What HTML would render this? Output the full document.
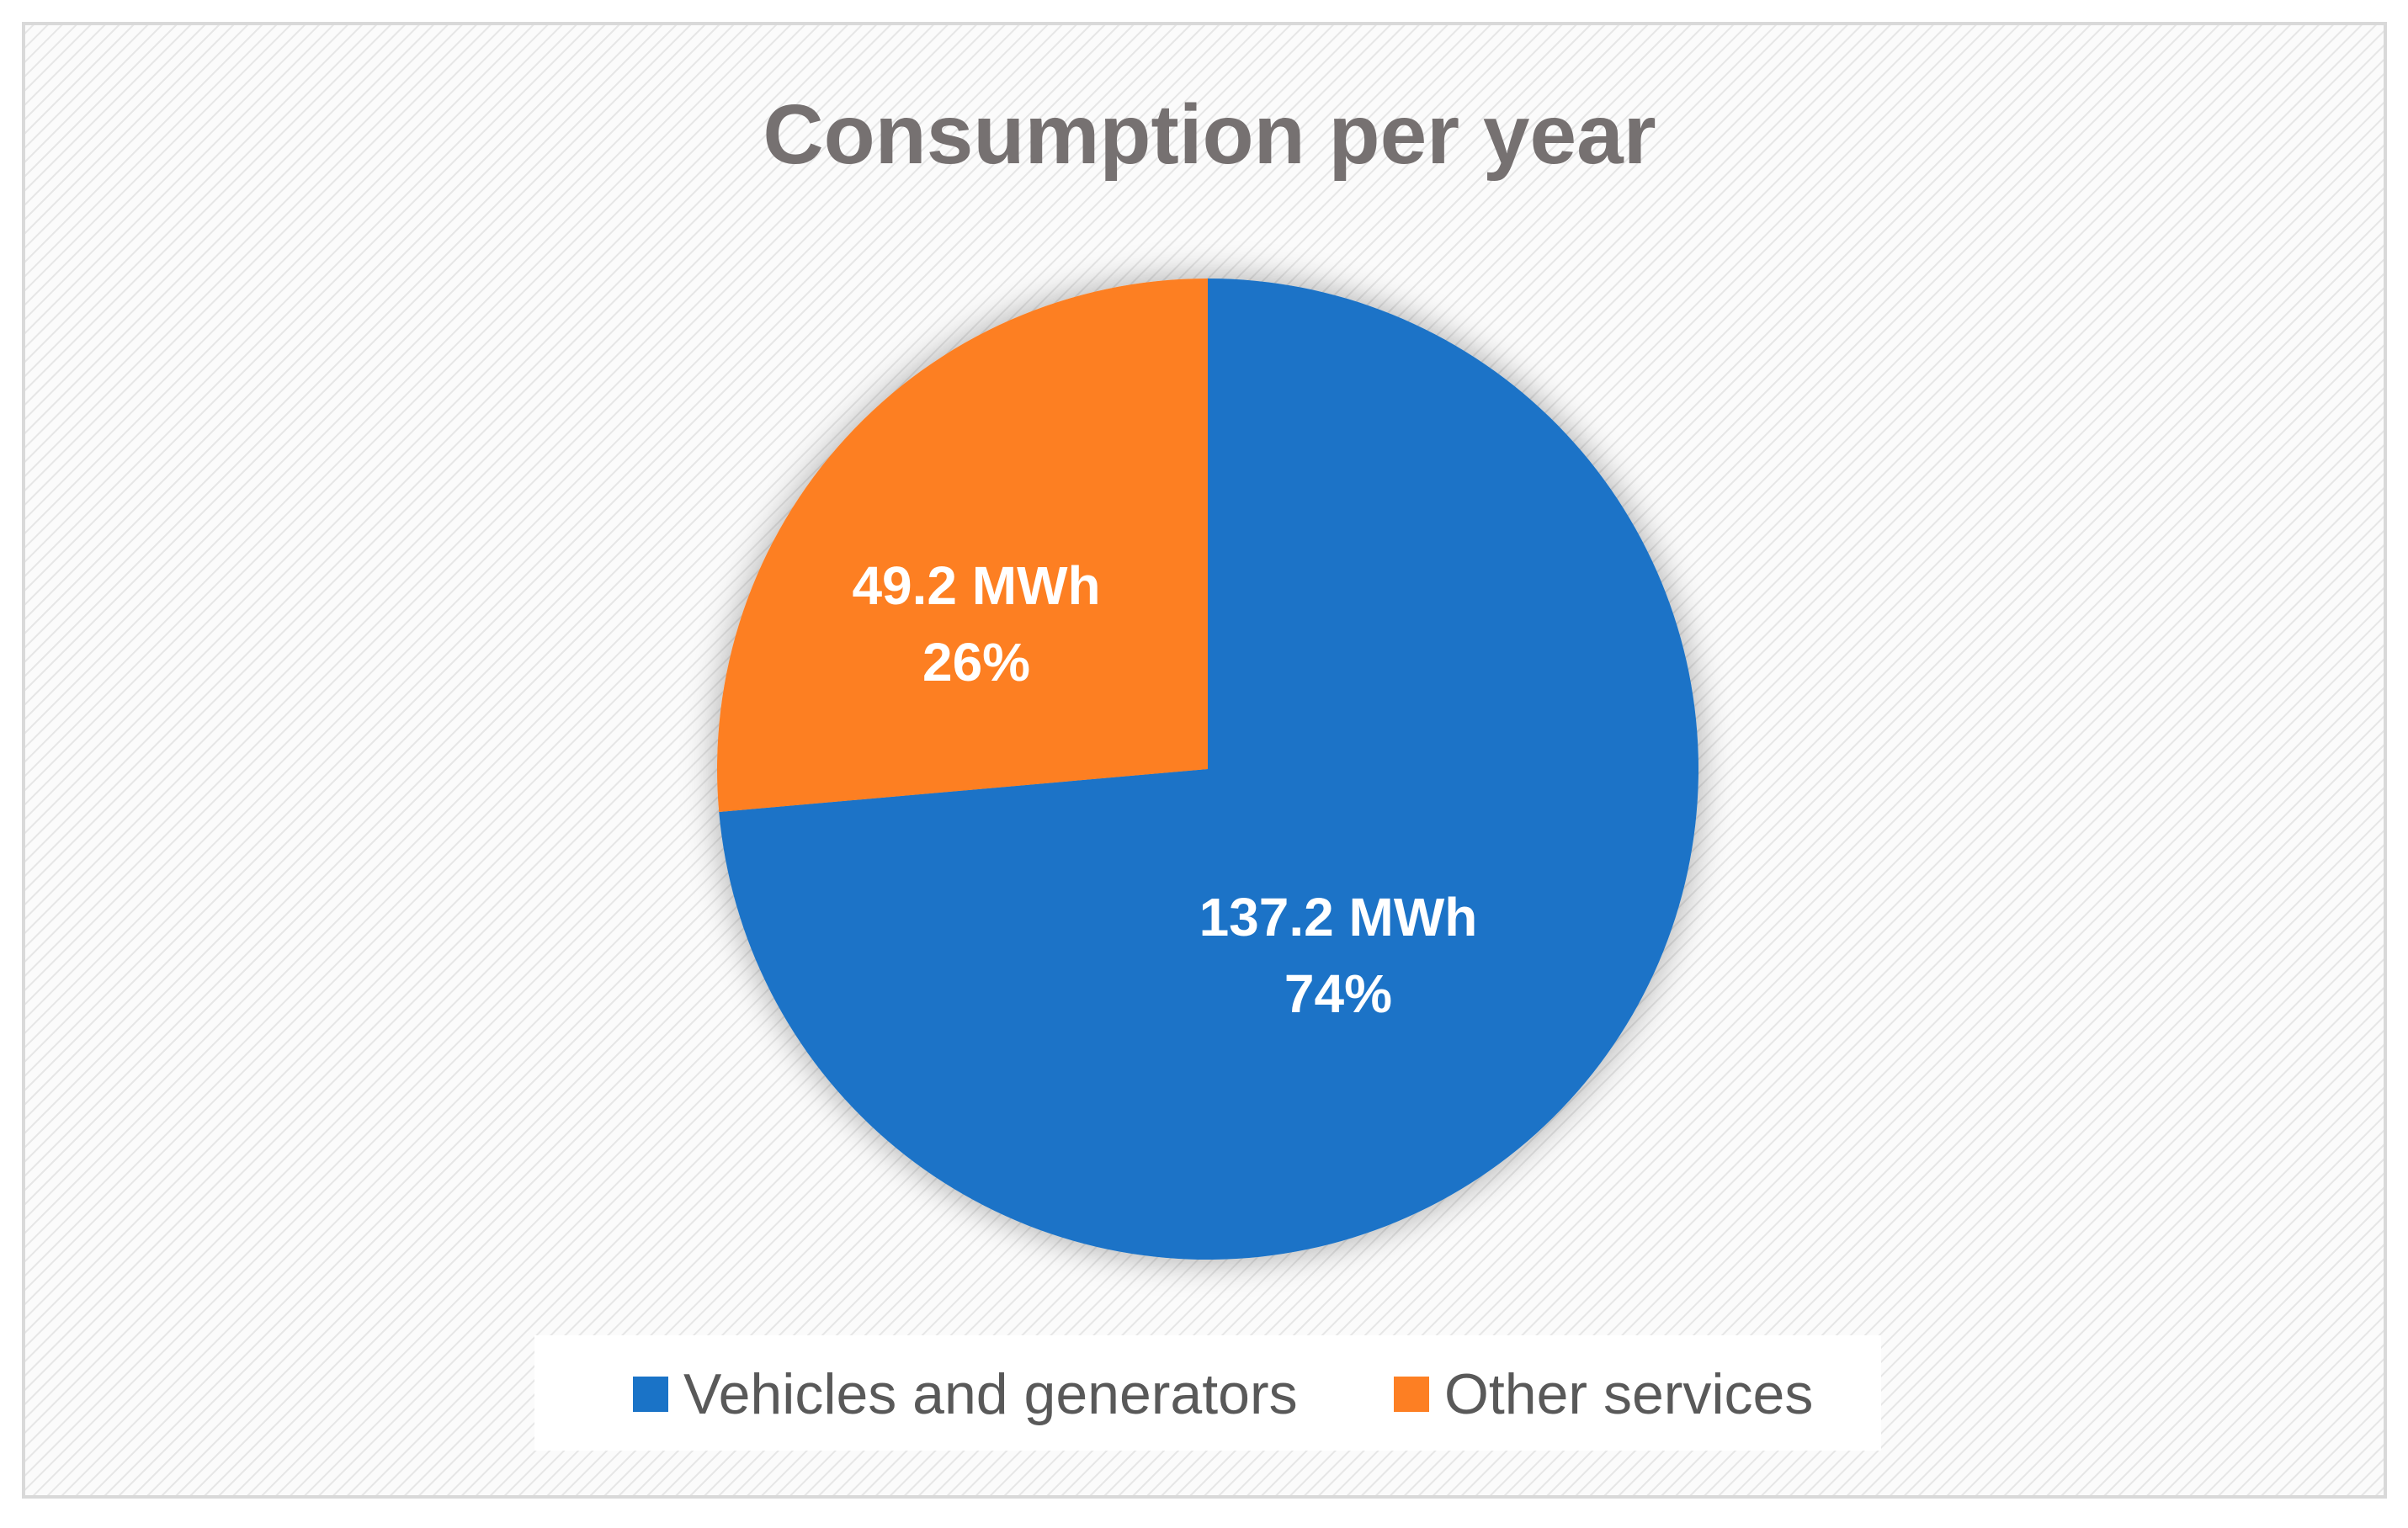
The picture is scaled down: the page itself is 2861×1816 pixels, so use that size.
<!DOCTYPE html>
<html><head><meta charset="utf-8">
<style>
html,body{margin:0;padding:0;background:#fff;}
body{width:2861px;height:1811px;overflow:hidden;font-family:"Liberation Sans",sans-serif;}
</style></head>
<body>
<svg id="chart" width="2861" height="1811" viewBox="0 0 2861 1811" xmlns="http://www.w3.org/2000/svg">
<defs>
<pattern id="hatch" width="12" height="12" patternUnits="userSpaceOnUse" patternTransform="rotate(45)">
<rect width="12" height="12" fill="#fbfbfb"/>
<line x1="0" y1="0" x2="0" y2="12" stroke="#e6e6e6" stroke-width="4"/>
</pattern>
<filter id="glow" x="-20%" y="-20%" width="140%" height="140%">
<feGaussianBlur in="SourceAlpha" stdDeviation="22"/>
<feComponentTransfer><feFuncA type="linear" slope="0.35"/></feComponentTransfer>
<feMerge><feMergeNode/><feMergeNode in="SourceGraphic"/></feMerge>
</filter>
</defs>
<rect x="28" y="28" width="2806" height="1751" fill="url(#hatch)" stroke="#d9d9d9" stroke-width="4"/>
<text x="1437" y="194" text-anchor="middle" font-size="100" font-weight="bold" fill="#767171">Consumption per year</text>
<g id="pie" filter="url(#glow)"></g>
<g id="labels"></g>
<rect x="635" y="1587" width="1600" height="137" fill="#ffffff"/>
<g id="legend"></g>
</svg>
<script>
const categories = ["Vehicles and generators", "Other services"];
const values = [137.2, 49.2];
const colors = ["#1a73c7", "#fd7f23"];
const cx = 1435, cy = 914, r = 583;
const NS = "http://www.w3.org/2000/svg";
const total = values.reduce((a,b)=>a+b,0);
const pie = document.getElementById("pie");
const labels = document.getElementById("labels");
let start = 0;
function pt(frac, rad){const a = frac*2*Math.PI - Math.PI/2; return [cx+rad*Math.cos(a), cy+rad*Math.sin(a)];}
values.forEach((v,i)=>{
  const f = v/total;
  const [x1,y1] = pt(start, r), [x2,y2] = pt(start+f, r);
  const p = document.createElementNS(NS,"path");
  p.setAttribute("d",`M${cx},${cy} L${x1},${y1} A${r},${r} 0 ${f>0.5?1:0} 1 ${x2},${y2} Z`);
  p.setAttribute("fill",colors[i]);
  
  
  pie.appendChild(p);
  let [lx,ly] = pt(start+f/2, r*0.5);
  lx -= 60; ly += 25;
  const lines = [v.toFixed(1)+" MWh", Math.round(f*100)+"%"];
  lines.forEach((s,k)=>{
    const t = document.createElementNS(NS,"text");
    t.setAttribute("x",lx); t.setAttribute("y",ly - 24 + k*91);
    t.setAttribute("text-anchor","middle");
    t.setAttribute("font-size","64"); t.setAttribute("font-weight","bold");
    t.setAttribute("fill","#ffffff");
    t.textContent = s;
    
    
    labels.appendChild(t);
  });
  start += f;
});
const legend = document.getElementById("legend");
const lxs = [752, 1656];
categories.forEach((c,i)=>{
  const s = document.createElementNS(NS,"rect");
  s.setAttribute("x",lxs[i]); s.setAttribute("y",1636); s.setAttribute("width",42); s.setAttribute("height",42);
  s.setAttribute("fill",colors[i]);
  
  
  legend.appendChild(s);
  const t = document.createElementNS(NS,"text");
  t.setAttribute("x",lxs[i]+60); t.setAttribute("y",1680);
  t.setAttribute("font-size","68"); t.setAttribute("fill","#595959");
  t.textContent = c;
  
  
  legend.appendChild(t);
});
</script>
</body></html>
